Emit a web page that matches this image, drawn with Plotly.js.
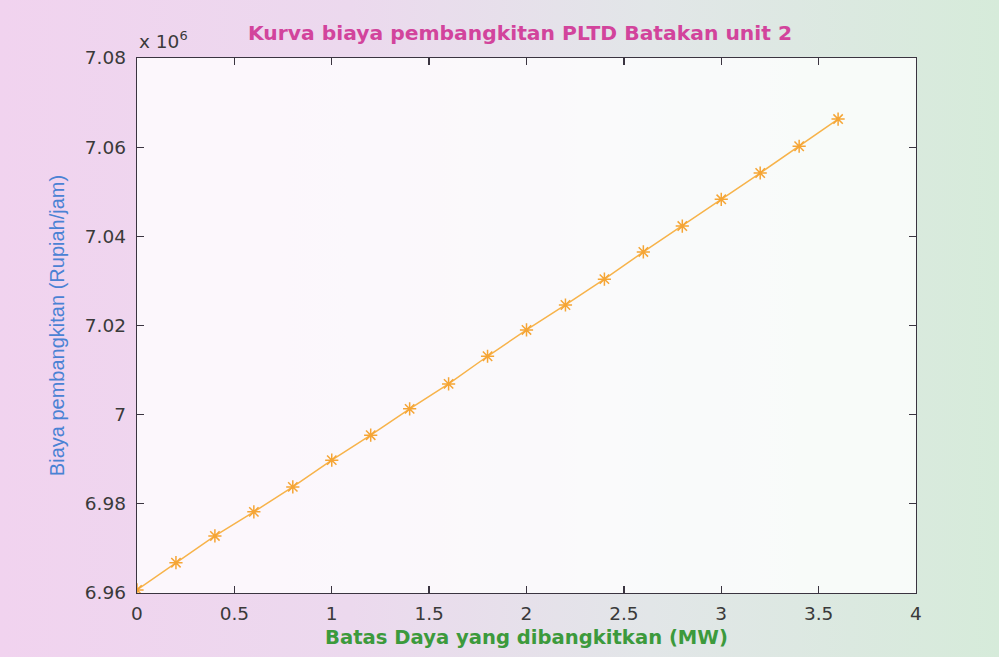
<!DOCTYPE html>
<html>
<head>
<meta charset="utf-8">
<script src="https://cdn.plot.ly/plotly-3.0.1.min.js"></script>
<style>
  html, body { margin: 0; padding: 0; }
  body {
    width: 999px; height: 657px; overflow: hidden;
    background: linear-gradient(90deg, #f1d3ef 0%, #ecd9ee 35%, #e2e6e8 65%, #d6ebda 100%);
  }
  #chart { width: 999px; height: 657px; }
</style>
</head>
<body>
<div id="chart"></div>
<script>
// Power output limit (MW)
const powerMW = [0, 0.2, 0.4, 0.6, 0.8, 1.0, 1.2, 1.4, 1.6, 1.8, 2.0, 2.2, 2.4, 2.6, 2.8, 3.0, 3.2, 3.4, 3.6];
// Generation cost (Rupiah/jam)
const costRupiah = [6960700, 6966800, 6972800, 6978200, 6983800, 6989800, 6995400, 7001300, 7006900,
                    7013100, 7019000, 7024600, 7030400, 7036500, 7042300, 7048300, 7054200, 7060200, 7066300];
const xTickVals = [0, 0.5, 1, 1.5, 2, 2.5, 3, 3.5, 4];
const xTickText = ['0', '0.5', '1', '1.5', '2', '2.5', '3', '3.5', '4'];
const yTickVals = [6.96, 6.98, 7.00, 7.02, 7.04, 7.06, 7.08];
const yTickText = ['6.96', '6.98', '7', '7.02', '7.04', '7.06', '7.08'];

const scale = 1e6;
const yPlot = costRupiah.map(v => v / scale);

const axisColor = '#3a3440';
const tickFont = { family: 'DejaVu Sans, Verdana, sans-serif', size: 18.5, color: '#3a3a3a' };

const trace = {
  x: powerMW,
  y: yPlot,
  type: 'scatter',
  mode: 'lines+markers',
  line: { color: '#f7b34a', width: 1.5 },
  marker: { symbol: 'asterisk-open', size: 11, color: '#f5a535', line: { color: '#f5a535', width: 1.5 } },
  hoverinfo: 'x+y'
};

const layout = {
  width: 999, height: 657,
  margin: { l: 137, r: 83, t: 58, b: 64 },
  paper_bgcolor: 'rgba(0,0,0,0)',
  plot_bgcolor: 'rgba(255,255,255,0.8)',
  showlegend: false,
  title: {
    text: '<b>Kurva biaya pembangkitan PLTD Batakan unit 2</b>',
    font: { family: 'DejaVu Sans, Verdana, sans-serif', size: 20.3, color: '#d2449c' },
    x: 520 / 999, xanchor: 'center', xref: 'container',
    y: 1 - 33 / 657, yanchor: 'middle', yref: 'container'
  },
  xaxis: {
    range: [0, 4],
    tickvals: xTickVals, ticktext: xTickText,
    ticks: 'inside', ticklen: 7, tickwidth: 1.3, tickcolor: axisColor,
    showline: true, linecolor: axisColor, linewidth: 1.3, mirror: 'ticks',
    showgrid: false, zeroline: false,
    tickfont: tickFont, ticklabelstandoff: 3,
    title: {
      text: '<b>Batas Daya yang dibangkitkan (MW)</b>',
      font: { family: 'DejaVu Sans, Verdana, sans-serif', size: 19.6, color: '#3c9a3c' },
      standoff: 7
    }
  },
  yaxis: {
    range: [6.96, 7.08],
    tickvals: yTickVals, ticktext: yTickText,
    ticks: 'inside', ticklen: 7, tickwidth: 1.3, tickcolor: axisColor,
    showline: true, linecolor: axisColor, linewidth: 1.3, mirror: 'ticks',
    showgrid: false, zeroline: false,
    tickfont: tickFont, ticklabelstandoff: 6,
    title: {
      text: 'Biaya pembangkitan (Rupiah/jam)',
      font: { family: 'Liberation Sans, Arial, sans-serif', size: 20, color: '#4a82d4' },
      standoff: 14
    }
  },
  annotations: [{
    text: 'x 10<sup>6</sup>',
    xref: 'paper', yref: 'paper',
    x: 0, y: 1, xanchor: 'left', yanchor: 'bottom', yshift: 4,
    showarrow: false,
    font: { family: 'DejaVu Sans, Verdana, sans-serif', size: 18.5, color: '#3a3a3a' }
  }]
};

Plotly.newPlot('chart', [trace], layout, { displayModeBar: false, staticPlot: true });
</script>
</body>
</html>
